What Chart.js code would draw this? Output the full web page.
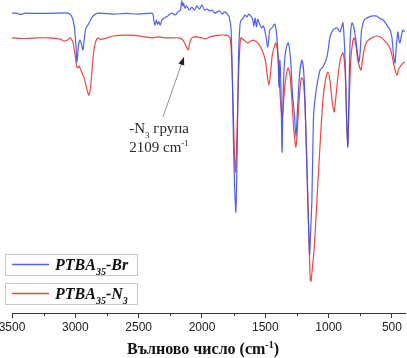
<!DOCTYPE html>
<html><head><meta charset="utf-8">
<script src="https://cdn.jsdelivr.net/npm/chart.js@4.4.1/dist/chart.umd.min.js"></script>
<style>html,body{margin:0;padding:0;background:#fff;}canvas{display:block;}</style>
</head><body>
<canvas id="c" width="407" height="358"></canvas>
<script>
// ---- Data (wavenumber in cm-1, transmittance in %) ----
const brWavenumbers = [3500,3460,3440,3420,3400,3300,3150,3060,3030,3010,2995,2987,2975,2963,2950,2940,2928,2916,2900,2880,2860,2820,2700,2600,2500,2400,2387,2378,2370,2360,2350,2340,2330,2316,2300,2270,2240,2210,2190,2170,2160,2152,2145,2135,2120,2100,2080,2060,2040,2020,2000,1980,1960,1940,1920,1900,1880,1860,1840,1820,1800,1785,1770,1760,1750,1740,1732,1722,1712,1700,1690,1675,1660,1645,1630,1615,1600,1590,1580,1570,1560,1545,1530,1515,1500,1480,1465,1447,1425,1410,1400,1392,1385,1376,1368,1360,1350,1335,1318,1300,1285,1270,1258,1248,1230,1211,1195,1180,1165,1150,1143,1132,1120,1108,1092,1068,1045,1013,989,966,934,910,887,870,860,848,840,830,816,800,785,770,760,750,740,720,700,680,650,620,600,570,540,515,500,490,476,465,453,445,437,425,413,400];
const brTransmittance = [95.8,95.8,95.4,95.5,95.8,95.7,95.8,95.8,94.9,92.0,85.6,79.9,85.6,87.2,85.6,84.0,87.9,91.1,92.0,93.6,94.9,95.8,95.5,95.7,95.5,95.8,95.5,93.0,92.0,93.6,92.3,93.0,92.0,93.6,94.2,94.9,95.8,95.2,96.2,96.8,99.7,98.1,99.0,97.4,98.1,96.8,97.7,96.8,98.1,97.1,98.4,96.8,97.1,96.5,96.8,95.8,96.2,96.5,95.5,96.2,95.5,94.6,90.4,74.4,52.1,37.7,32.3,52.1,80.8,92.0,93.6,94.2,95.2,94.6,95.5,94.9,93.9,91.7,94.2,91.4,93.9,92.3,91.1,91.7,89.5,85.0,90.4,91.1,92.3,88.8,82.4,72.2,80.8,71.2,51.4,68.1,79.2,84.7,86.3,80.8,69.6,63.3,56.2,63.3,76.0,80.8,76.0,58.5,36.1,18.8,24.9,36.1,62.0,68.1,72.8,77.6,78.6,81.8,88.2,90.4,91.1,89.8,92.7,80.8,64.9,53.0,68.1,87.2,92.7,91.1,87.2,82.4,80.2,84.0,90.4,93.6,94.2,94.6,94.9,94.9,94.2,93.6,92.0,90.4,87.9,83.4,79.9,85.6,89.8,87.2,86.3,88.8,90.4,89.8];

const n3Wavenumbers = [3500,3400,3300,3200,3120,3090,3060,3040,3020,3005,2990,2980,2970,2950,2930,2915,2900,2892,2880,2868,2855,2840,2820,2800,2750,2700,2600,2529,2450,2390,2350,2300,2250,2180,2150,2130,2109,2095,2080,2050,2000,1976,1937,1880,1820,1790,1775,1765,1755,1745,1735,1725,1712,1700,1692,1670,1640,1615,1597,1560,1526,1500,1485,1471,1460,1445,1425,1416,1400,1385,1375,1365,1355,1340,1320,1305,1290,1275,1258,1245,1230,1215,1200,1185,1170,1155,1145,1139,1130,1115,1092,1070,1045,1025,1005,990,975,958,945,925,905,887,870,860,850,840,825,810,800,785,770,745,735,720,700,660,618,580,550,520,500,480,460,450,437,420,400];
const n3Transmittance = [87.9,87.7,87.9,87.9,87.5,86.9,87.2,87.9,86.6,83.4,78.9,78.3,78.9,77.0,75.1,72.5,70.3,69.6,71.9,77.6,83.4,86.6,87.9,87.4,87.9,88.5,88.8,88.7,88.2,87.9,88.2,88.0,87.9,87.9,87.2,85.6,84.0,86.6,87.9,88.2,87.9,87.6,88.2,88.7,88.8,88.5,87.2,80.8,68.1,52.1,45.0,55.3,74.4,85.6,87.9,87.2,86.3,86.9,87.2,86.3,84.0,80.8,76.0,72.8,76.0,82.4,85.6,86.3,82.4,71.2,64.9,62.6,68.1,74.4,78.3,76.0,68.1,58.5,53.0,60.1,69.6,75.1,74.4,64.9,45.7,23.3,10.5,10.2,13.7,20.1,36.1,52.1,68.1,74.4,77.0,74.4,68.7,64.2,68.1,76.0,81.5,83.1,77.6,64.9,53.0,64.9,80.8,86.6,87.9,85.6,80.8,77.6,80.2,84.0,86.6,87.9,88.5,87.9,86.6,85.0,82.4,78.3,76.0,77.6,78.6,79.5,80.2];

const xMajorTicks = [3500,3000,2500,2000,1500,1000,500];
const xMinorTicks = [3250,2750,2250,1750,1250,750];
const brLabelParts = [['PTBA',''],['35','sub'],['-Br','']];
const n3LabelParts = [['PTBA',''],['35','sub'],['-N',''],['3','sub']];
const axisTitleParts = [['Вълново число (cm',''],['-1','sup'],[')','']];
const annotationLine1 = [['-N',''],['3','sub'],[' група','']];
const annotationLine2 = [['2109 cm',''],['-1','sup']];
const annotationPeak = 2109;

// ---- Styling ----
const BLUE = 'rgba(60,80,235,0.9)';
const RED = 'rgba(238,50,50,0.9)';
const SERIF = '"Liberation Serif","Times New Roman",serif';

function toPoints(xs, ys){ return xs.map((x,i)=>({x:x,y:ys[i]})); }

function drawRich(ctx, parts, x, y, size, style, align){
  const fontFor = p => `${style} ${p[1] ? Math.round(size*0.62) : size}px ${SERIF}`;
  const widths = parts.map(p => { ctx.font = fontFor(p); return ctx.measureText(p[0]).width; });
  const total = widths.reduce((a,b)=>a+b,0);
  let cx = align === 'center' ? x - total/2 : x;
  ctx.textAlign = 'left';
  ctx.textBaseline = 'alphabetic';
  parts.forEach((p,i)=>{
    ctx.font = fontFor(p);
    const dy = p[1]==='sub' ? size*0.3 : (p[1]==='sup' ? -size*0.4 : 0);
    ctx.fillText(p[0], cx, y+dy);
    cx += widths[i];
  });
}

const decorations = {
  id: 'decorations',
  afterDraw(chart){
    const ctx = chart.ctx;
    const xs = chart.scales.x, ys = chart.scales.y;
    const axisY = chart.chartArea.bottom;
    ctx.save();
    // minor ticks
    ctx.strokeStyle = '#333'; ctx.lineWidth = 1;
    xMinorTicks.forEach(v=>{
      const px = Math.round(xs.getPixelForValue(v)) + 0.5;
      ctx.beginPath(); ctx.moveTo(px, axisY); ctx.lineTo(px, axisY+3); ctx.stroke();
    });
    // axis title
    ctx.fillStyle = '#111';
    drawRich(ctx, axisTitleParts, 203, 354, 16, 'bold', 'center');

    // annotation arrow
    const tailX = xs.getPixelForValue(2308), tailY = ys.getPixelForValue(62.6);
    const tipX = xs.getPixelForValue(2142), tipY = ys.getPixelForValue(81.8);
    ctx.strokeStyle = '#777'; ctx.lineWidth = 0.8;
    ctx.beginPath(); ctx.moveTo(tailX, tailY); ctx.lineTo(tipX, tipY); ctx.stroke();
    const ang = Math.atan2(tipY - tailY, tipX - tailX);
    const L = 8, W = 3;
    ctx.fillStyle = '#222';
    ctx.beginPath();
    ctx.moveTo(tipX, tipY);
    ctx.lineTo(tipX - L*Math.cos(ang) + W*Math.sin(ang), tipY - L*Math.sin(ang) - W*Math.cos(ang));
    ctx.lineTo(tipX - L*Math.cos(ang) - W*Math.sin(ang), tipY - L*Math.sin(ang) + W*Math.cos(ang));
    ctx.closePath(); ctx.fill();
    // annotation text
    ctx.fillStyle = '#2a2a2a';
    const tx = xs.getPixelForValue(2339);
    drawRich(ctx, annotationLine1, tx, ys.getPixelForValue(57.5), 15, 'normal', 'center');
    drawRich(ctx, annotationLine2, tx, ys.getPixelForValue(51.4), 15, 'normal', 'center');

    // legend boxes
    const boxes = [
      {top:254, color:BLUE, parts:brLabelParts},
      {top:283, color:RED, parts:n3LabelParts}
    ];
    boxes.forEach(b=>{
      ctx.fillStyle = '#fff';
      ctx.fillRect(5.5, b.top+0.5, 132, 21);
      ctx.strokeStyle = '#c8c8c8'; ctx.lineWidth = 1;
      ctx.strokeRect(5.5, b.top+0.5, 132, 21);
      ctx.strokeStyle = b.color; ctx.lineWidth = 1.3;
      ctx.beginPath(); ctx.moveTo(12, b.top+10.5); ctx.lineTo(49, b.top+10.5); ctx.stroke();
      ctx.fillStyle = '#111';
      drawRich(ctx, b.parts, 55, b.top+16, 16, 'italic bold', 'left');
    });
    ctx.restore();
  }
};

new Chart(document.getElementById('c'), {
  type: 'line',
  data: {
    datasets: [
      { label: 'PTBA35-Br', data: toPoints(brWavenumbers, brTransmittance), borderColor: BLUE, borderWidth: 1.2, pointRadius: 0, tension: 0.25, order: 0 },
      { label: 'PTBA35-N3', data: toPoints(n3Wavenumbers, n3Transmittance), borderColor: RED, borderWidth: 1.2, pointRadius: 0, tension: 0.25, order: 1 }
    ]
  },
  options: {
    responsive: false,
    animation: false,
    layout: { padding: { left: 12, right: 2, top: 0, bottom: 0 } },
    plugins: { legend: { display: false }, tooltip: { enabled: false } },
    scales: {
      x: {
        type: 'linear', reverse: true, min: 397, max: 3500,
        afterFit: s => { s.height = 45; s.paddingLeft = 0; s.paddingRight = 0; },
        afterBuildTicks: s => { s.ticks = xMajorTicks.map(v => ({ value: v })); },
        ticks: {
          autoSkip: false, maxRotation: 0, padding: 2,
          color: '#222', font: { family: '"Liberation Sans", Arial, sans-serif', size: 12 },
          callback: v => String(v)
        },
        grid: { display: true, drawOnChartArea: false, drawTicks: true, tickLength: 5, color: '#333' },
        border: { display: true, color: '#333', width: 1 }
      },
      y: { display: false, min: 0, max: 100 }
    }
  },
  plugins: [decorations]
});
</script>
</body></html>
